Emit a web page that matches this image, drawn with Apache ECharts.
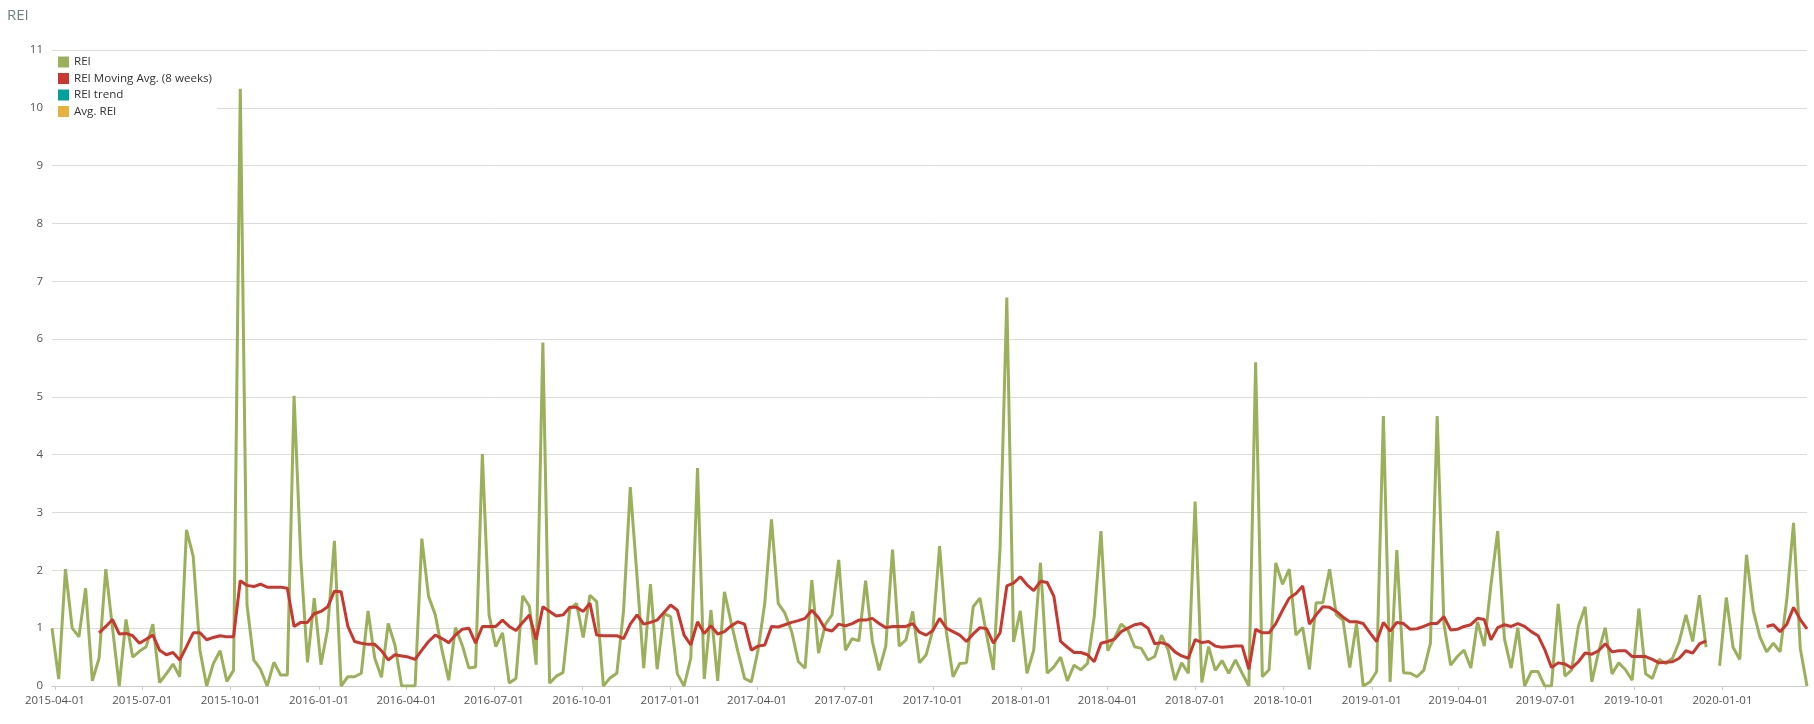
<!DOCTYPE html>
<html><head><meta charset="utf-8">
<script src="https://cdn.jsdelivr.net/npm/echarts@6/dist/echarts.min.js"></script>
<style>html,body{margin:0;padding:0;background:#fff}#c{width:1814px;height:724px}</style>
</head><body><div id="c"></div>
<script>
// weekly points starting at this date
const startDate = '2015-03-29';
const tickLabels = ['2015-04-01','2015-07-01','2015-10-01','2016-01-01','2016-04-01','2016-07-01','2016-10-01','2017-01-01','2017-04-01','2017-07-01','2017-10-01','2018-01-01','2018-04-01','2018-07-01','2018-10-01','2019-01-01','2019-04-01','2019-07-01','2019-10-01','2020-01-01'];
const seriesNames = ['REI','REI Moving Avg. (8 weeks)','REI trend','Avg. REI'];
const rei = [
1.0,0.12,2.02,1.0,0.85,1.69,0.09,0.48,2.02,1.0,
0.0,1.15,0.5,0.6,0.68,1.07,0.06,0.21,0.38,0.16,
2.7,2.24,0.62,0.0,0.39,0.61,0.08,0.27,10.33,1.4,
0.45,0.29,0.0,0.41,0.19,0.19,5.02,2.2,0.41,1.52,
0.37,0.99,2.51,0.0,0.16,0.16,0.22,1.3,0.48,0.15,
1.08,0.71,0.0,0.0,0.0,2.55,1.55,1.23,0.62,0.1,
1.01,0.71,0.31,0.33,4.01,1.23,0.68,0.92,0.05,0.13,
1.56,1.38,0.37,5.94,0.05,0.17,0.23,1.33,1.43,0.84,
1.57,1.46,0.0,0.14,0.22,1.3,3.44,1.9,0.31,1.76,
0.29,1.25,1.2,0.21,0.0,0.48,3.77,0.12,1.31,0.09,
1.63,1.1,0.6,0.13,0.07,0.62,1.43,2.88,1.43,1.26,
0.94,0.42,0.31,1.83,0.57,1.06,1.23,2.18,0.62,0.82,
0.78,1.82,0.77,0.27,0.69,2.36,0.69,0.8,1.29,0.4,
0.54,0.97,2.42,0.94,0.16,0.39,0.4,1.37,1.52,0.88,
0.28,2.4,6.72,0.76,1.3,0.22,0.62,2.13,0.22,0.33,
0.5,0.09,0.36,0.28,0.39,1.2,2.68,0.61,0.82,1.07,
0.97,0.68,0.65,0.45,0.51,0.88,0.62,0.1,0.4,0.22,
3.19,0.06,0.68,0.27,0.44,0.22,0.45,0.22,0.0,5.6,
0.16,0.28,2.13,1.76,2.02,0.88,1.01,0.29,1.44,1.44,
2.02,1.23,1.14,0.32,1.08,0.0,0.07,0.25,4.67,0.07,
2.35,0.23,0.22,0.16,0.27,0.74,4.67,1.08,0.36,0.51,
0.62,0.31,1.11,0.69,1.75,2.68,0.82,0.31,1.01,0.0,
0.25,0.25,0.0,0.0,1.42,0.17,0.28,1.03,1.37,0.07,
0.59,1.01,0.21,0.4,0.28,0.1,1.34,0.21,0.13,0.46,
0.39,0.48,0.77,1.23,0.77,1.57,0.67,null,0.35,1.53,
0.67,0.46,2.27,1.31,0.85,0.59,0.74,0.59,1.5,2.82,
0.65,0.0];
const reiMovingAvg = [
null,null,null,null,null,null,null,0.92,1.03,1.15,
0.9,0.91,0.87,0.74,0.81,0.88,0.62,0.54,0.58,0.45,
0.68,0.92,0.92,0.8,0.84,0.87,0.85,0.85,1.82,1.74,
1.72,1.76,1.71,1.71,1.71,1.69,1.03,1.1,1.1,1.25,
1.29,1.37,1.64,1.63,1.03,0.77,0.74,0.72,0.72,0.61,
0.45,0.54,0.52,0.5,0.46,0.62,0.77,0.88,0.82,0.75,
0.88,0.98,1.0,0.74,1.03,1.03,1.03,1.14,1.03,0.96,
1.1,1.23,0.8,1.37,1.29,1.21,1.23,1.36,1.36,1.29,
1.43,0.88,0.87,0.87,0.87,0.82,1.07,1.23,1.07,1.1,
1.14,1.27,1.4,1.31,0.88,0.71,1.11,0.91,1.04,0.9,
0.94,1.04,1.11,1.07,0.62,0.69,0.71,1.03,1.02,1.06,
1.1,1.13,1.17,1.31,1.18,0.98,0.95,1.07,1.04,1.08,
1.14,1.14,1.17,1.08,1.01,1.03,1.03,1.03,1.08,0.93,
0.88,0.96,1.17,1.0,0.94,0.88,0.77,0.9,1.01,0.99,
0.74,0.92,1.73,1.78,1.89,1.75,1.65,1.81,1.79,1.55,
0.77,0.67,0.58,0.58,0.54,0.42,0.74,0.77,0.81,0.94,
1.0,1.06,1.08,1.0,0.73,0.75,0.71,0.59,0.52,0.48,
0.8,0.75,0.77,0.69,0.67,0.68,0.69,0.69,0.29,0.98,
0.92,0.92,1.08,1.31,1.52,1.6,1.73,1.07,1.23,1.37,
1.36,1.29,1.19,1.11,1.11,1.08,0.92,0.77,1.1,0.95,
1.1,1.08,0.98,0.99,1.03,1.08,1.08,1.2,0.97,0.98,
1.03,1.06,1.17,1.15,0.8,1.01,1.06,1.03,1.08,1.03,
0.94,0.87,0.63,0.32,0.4,0.38,0.31,0.42,0.57,0.55,
0.61,0.73,0.59,0.61,0.61,0.51,0.51,0.51,0.46,0.4,
0.41,0.42,0.48,0.61,0.57,0.73,0.78,null,null,null,
null,null,null,null,null,1.03,1.06,0.94,1.07,1.36,
1.15,0.99];
const reiTrend = [];
const avgRei = [];

function ts(s){ const p = s.split('-'); return Date.UTC(+p[0], +p[1]-1, +p[2]); }
const DAY = 86400000;
const t0 = ts(startDate);
const weeks = rei.map((_, i) => t0 + i * 7 * DAY);
const tickValues = tickLabels.map(ts);
const pair = arr => arr.map((v, i) => [weeks[i], v]);

const chart = echarts.init(document.getElementById('c'), null, {renderer: 'canvas'});
const FONT = '"Open Sans", "Noto Sans", sans-serif';
chart.setOption({
  animation: false,
  backgroundColor: '#fff',
  textStyle: {fontFamily: FONT},
  title: {text: 'REI', left: 2, top: 3, textStyle: {fontFamily: FONT, fontSize: 15, fontWeight: 'normal', color: '#6e8080'}},
  legend: {
    orient: 'vertical', left: 53, top: 51, padding: [5, 5, 5, 5],
    backgroundColor: '#fff', icon: 'rect', itemWidth: 11, itemHeight: 11, itemGap: 4.5,
    textStyle: {fontFamily: FONT, fontSize: 11.6, color: '#333', lineHeight: 12},
    data: seriesNames
  },
  grid: {left: 52, right: 7, top: 50, bottom: 38, containLabel: false},
  xAxis: {
    type: 'value', min: weeks[0], max: weeks[weeks.length - 1],
    splitLine: {show: false},
    axisLine: {show: true, lineStyle: {color: '#ccc'}},
    axisTick: {show: true, length: 4, lineStyle: {color: '#ccc'}, customValues: tickValues},
    axisLabel: {
      customValues: tickValues, margin: 9, fontFamily: FONT, fontSize: 11.5, color: '#555',
      formatter: v => { const k = tickValues.indexOf(v); if (k >= 0) return tickLabels[k];
        const d = new Date(v); const p = n => String(n).padStart(2, '0');
        return d.getUTCFullYear() + '-' + p(d.getUTCMonth() + 1) + '-' + p(d.getUTCDate()); }
    }
  },
  yAxis: {
    type: 'value', min: 0, max: 11, interval: 1,
    axisLine: {show: false}, axisTick: {show: false},
    axisLabel: {fontFamily: FONT, fontSize: 11.5, color: '#555', margin: 9},
    splitLine: {lineStyle: {color: '#dcdcdc', width: 1}}
  },
  series: [
    {name: seriesNames[0], type: 'line', data: pair(rei), showSymbol: false, connectNulls: false,
     itemStyle: {color: '#9bb05b'}, lineStyle: {color: '#9bb05b', width: 3}, z: 2},
    {name: seriesNames[1], type: 'line', data: pair(reiMovingAvg), showSymbol: false, connectNulls: false,
     itemStyle: {color: '#c9372e'}, lineStyle: {color: '#c9372e', width: 3}, z: 3},
    {name: seriesNames[2], type: 'line', data: reiTrend, showSymbol: false,
     itemStyle: {color: '#00a09b'}, lineStyle: {color: '#00a09b', width: 3}},
    {name: seriesNames[3], type: 'line', data: avgRei, showSymbol: false,
     itemStyle: {color: '#e6b43e'}, lineStyle: {color: '#e6b43e', width: 3}}
  ]
});
</script>
</body></html>
